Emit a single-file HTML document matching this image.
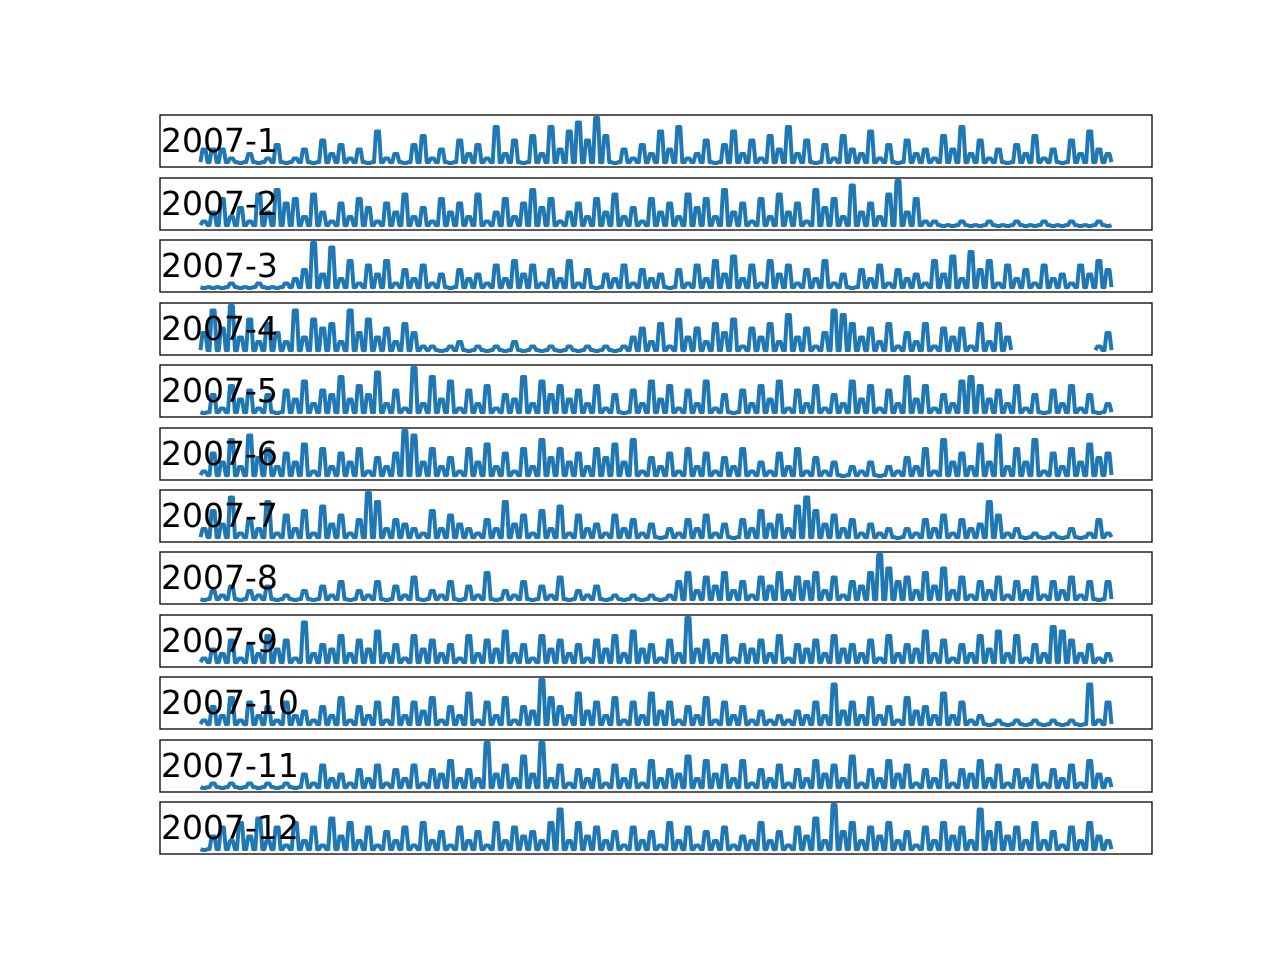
<!DOCTYPE html>
<html><head><meta charset="utf-8"><style>
body{margin:0;background:#fff;}
svg{display:block;}
text{font-family:"DejaVu Sans","Liberation Sans",sans-serif;}
</style></head><body>
<svg id="chart" width="1280" height="960" viewBox="0 0 1280 960"></svg>
<script>
const months = ["2007-1","2007-2","2007-3","2007-4","2007-5","2007-6","2007-7","2007-8","2007-9","2007-10","2007-11","2007-12"];
const s1 = [3,3,3,1,0,2,0,1,4,0,1,3,0,5,2,4,1,3,0,7,1,2,0,4,6,1,3,0,5,2,4,1,8,2,5,0,6,2,8,3,7,9,5,10,6,0,3,1,4,2,7,3,8,1,2,5,0,4,7,2,5,1,6,3,8,2,5,0,4,1,6,3,2,7,1,4,0,5,2,3,1,6,3,8,2,5,1,3,0,4,2,6,1,3,0,5,2,7,3,2];
const s2 = [1,3,6,2,4,1,7,3,8,5,6,2,7,3,1,5,2,6,4,1,5,3,7,2,4,1,6,3,5,2,7,1,3,6,2,5,8,4,6,1,3,5,2,6,3,7,2,4,1,6,3,5,2,7,4,6,2,8,3,5,1,6,2,7,3,5,1,8,4,6,2,9,3,5,2,7,10,3,6,1,1,0,0,1,0,0,1,0,0,1,0,0,1,0,0,1,0,0,1,0];
const s3 = [0,0,0,1,0,0,1,0,0,1,2,4,10,3,9,2,6,1,5,3,6,1,4,2,5,1,3,0,4,2,3,1,5,2,6,3,5,1,4,2,6,1,4,0,3,2,5,1,4,2,3,0,4,1,5,2,6,3,7,2,5,1,6,3,5,1,4,2,6,1,3,0,4,2,5,1,4,2,3,1,6,3,7,2,8,4,6,1,5,2,4,1,5,2,3,1,5,3,6,4];
const s4 = [4,9,5,10,3,7,2,6,4,2,9,3,7,5,6,2,9,4,7,3,5,2,6,4,1,1,0,1,2,0,1,0,1,0,2,0,1,0,1,0,1,0,1,0,1,0,1,3,5,2,6,1,7,3,5,2,6,4,7,1,5,3,6,2,8,3,5,1,4,9,8,6,3,5,2,6,1,4,2,6,1,5,3,5,1,6,2,6,3,null,null,null,null,null,null,null,null,null,1,4];
const s5 = [0,4,1,6,3,5,1,4,0,5,3,7,2,5,4,8,3,6,4,9,2,5,1,10,2,8,3,7,1,5,2,6,1,4,3,8,2,7,4,6,3,5,2,6,1,4,0,5,2,7,3,6,1,5,2,7,1,4,0,5,2,6,3,7,1,5,2,6,1,4,2,7,3,6,1,5,2,8,3,6,1,4,2,7,8,6,3,5,2,6,1,4,0,5,2,6,1,4,0,2];
const s6 = [1,5,3,8,2,9,4,6,2,5,3,7,1,6,2,5,3,6,1,4,2,5,10,9,3,6,2,4,1,6,3,7,2,5,1,6,2,8,4,6,3,5,2,6,4,7,3,8,1,4,2,5,1,6,2,5,1,4,2,6,1,3,1,5,2,6,1,4,1,3,0,2,1,3,0,2,1,4,2,6,1,8,3,5,2,7,3,9,2,6,3,8,1,5,2,6,3,7,4,5];
const s7 = [2,6,3,9,1,4,2,8,1,5,2,6,1,7,3,5,1,4,10,8,2,4,3,2,1,6,2,5,3,2,1,4,2,8,3,5,1,6,2,7,1,5,2,3,1,5,2,4,1,3,0,2,1,4,2,5,1,3,0,4,2,6,3,5,2,7,9,6,3,5,2,4,1,3,1,2,0,2,1,4,2,5,1,4,2,3,8,5,1,2,0,1,0,1,0,2,0,1,4,1];
const s8 = [0,2,1,3,0,2,1,3,0,1,0,2,0,3,1,4,0,2,1,4,0,3,1,5,0,2,1,4,0,3,1,6,0,2,1,4,0,3,1,5,0,2,1,3,0,1,0,1,0,1,0,1,4,6,2,5,3,6,2,4,1,5,3,6,2,5,4,6,2,5,1,4,3,6,10,7,4,5,2,6,3,7,2,5,1,4,2,5,1,4,2,5,1,4,2,5,1,4,0,4];
const s9 = [1,3,2,5,1,4,2,6,3,5,1,9,2,4,3,6,2,5,3,7,2,4,1,6,3,5,2,4,1,6,2,5,3,7,2,4,1,6,3,5,2,4,1,5,3,6,2,7,3,4,1,5,2,10,3,5,2,6,1,4,3,5,2,6,1,4,3,5,2,6,3,4,2,5,1,6,2,4,3,7,2,5,1,4,2,6,3,7,2,6,1,4,2,8,7,5,2,4,1,2];
const s10 = [1,4,2,6,1,5,2,4,1,5,2,3,1,4,2,6,1,4,2,5,1,6,2,5,3,6,1,4,2,7,1,5,2,6,1,4,3,10,6,4,2,7,3,5,2,6,1,5,2,7,3,5,1,4,2,6,1,5,2,4,1,3,1,2,1,3,2,5,2,9,3,5,2,6,2,4,1,6,3,4,2,7,2,5,1,2,0,1,0,1,0,1,0,1,0,1,0,9,1,5];
const s11 = [0,1,0,1,0,1,0,1,0,1,0,3,1,5,2,3,1,4,2,5,1,4,2,5,1,4,3,6,2,4,2,10,3,5,2,7,3,10,2,5,1,4,2,4,1,5,2,4,1,6,2,4,3,7,2,6,3,5,2,6,1,4,2,5,1,4,2,6,3,5,2,7,1,4,2,6,3,5,1,4,2,6,1,4,3,6,2,5,1,4,2,5,1,4,2,5,1,6,3,2];
const s12 = [0,3,5,2,6,3,7,2,5,1,6,2,5,1,7,3,6,2,5,1,4,2,5,1,6,2,4,1,5,2,4,1,6,2,5,3,4,2,6,9,2,6,3,5,2,4,1,5,2,4,1,6,2,5,1,4,2,5,1,3,2,6,2,4,1,5,3,7,2,10,4,6,2,5,3,6,2,4,1,5,2,6,3,5,2,9,4,6,3,5,2,6,2,4,1,5,2,6,3,2];
const seriesList = [s1,s2,s3,s4,s5,s6,s7,s8,s9,s10,s11,s12];

const NS = "http://www.w3.org/2000/svg";
const svg = document.getElementById("chart");
const tops = [115,178,240,303,365,428,490,552,615,677,740,802];
const L = 160, W = 992, H = 52, x0 = 204, x1 = 1108;
seriesList.forEach((vals, p) => {
  const top = tops[p];
  const g = document.createElementNS(NS, "g");
  
  
  svg.appendChild(g);
  const xs = i => x0 + i * (x1 - x0) / (vals.length - 1);
  const ys = v => top + H - 4 - v * (H - 7) / 10;
  const base = ys(0.2);
  let d = "", pen = false;
  vals.forEach((v, i) => {
    if (v === null) { pen = false; return; }
    const x = xs(i), y = ys(v);
    d += (pen ? "L" : "M") + (x - 3.5).toFixed(1) + " " + base.toFixed(1) + " ";
    d += "L" + (x - 1.5).toFixed(1) + " " + y.toFixed(1) + " L" + (x + 1.5).toFixed(1) + " " + y.toFixed(1) + " ";
    d += "L" + (x + 3.5).toFixed(1) + " " + base.toFixed(1) + " ";
    pen = true;
  });
  const path = document.createElementNS(NS, "path");
  path.setAttribute("d", d);
  path.setAttribute("fill", "none");
  path.setAttribute("stroke", "#1f77b4");
  path.setAttribute("stroke-width", "4");
  path.setAttribute("stroke-linejoin", "round");
  
  
  g.appendChild(path);
  const rect = document.createElementNS(NS, "rect");
  rect.setAttribute("x", L); rect.setAttribute("y", top);
  rect.setAttribute("width", W); rect.setAttribute("height", H);
  rect.setAttribute("fill", "none"); rect.setAttribute("stroke", "#000"); rect.setAttribute("stroke-width", "1.3");
  
  
  g.appendChild(rect);
  const t = document.createElementNS(NS, "text");
  t.setAttribute("x", L + 1); t.setAttribute("y", top + 37);
  t.setAttribute("font-size", "33");
  t.setAttribute("fill", "#000");
  t.textContent = months[p];
  
  
  g.appendChild(t);
});
</script>
</body></html>
